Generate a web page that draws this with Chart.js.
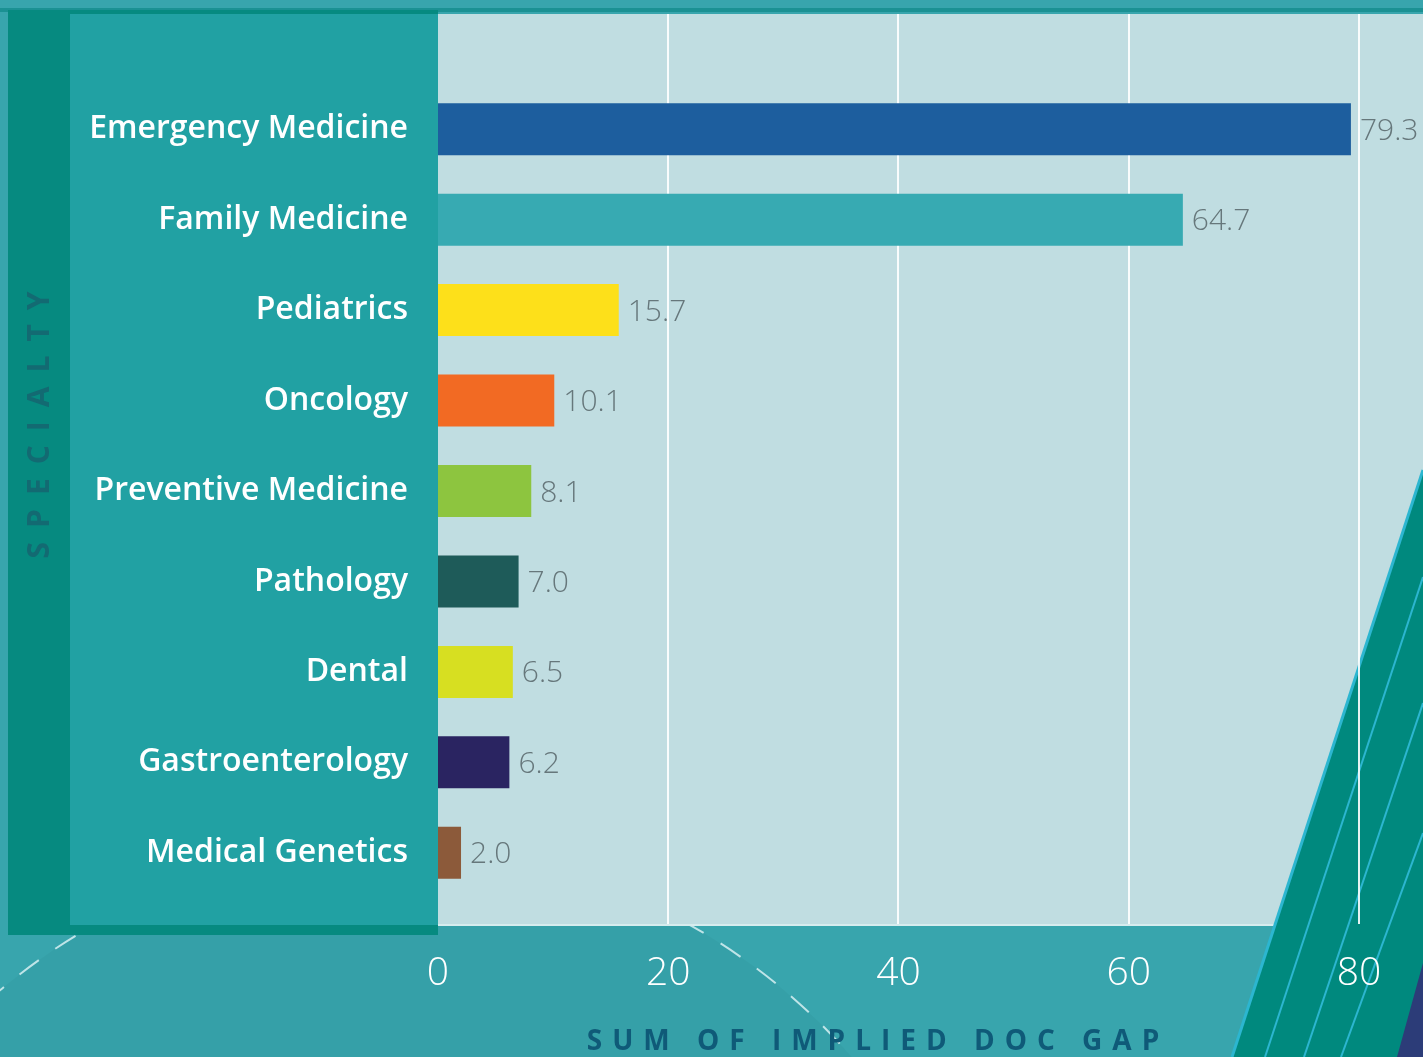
<!DOCTYPE html>
<html>
<head>
<meta charset="utf-8">
<script src="https://cdn.jsdelivr.net/npm/chart.js@4.4.1/dist/chart.umd.min.js"></script>
<style>
  html, body { margin: 0; padding: 0; background: #38a5ad; overflow: hidden; }
  canvas { display: block; }
</style>
</head>
<body>
<canvas id="gapChart" width="1423" height="1057"></canvas>
<script>
// Implied doctor gap by specialty
const specialties = ["Emergency Medicine", "Family Medicine", "Pediatrics", "Oncology",
    "Preventive Medicine", "Pathology", "Dental", "Gastroenterology", "Medical Genetics"];
const docGap = [79.3, 64.7, 15.7, 10.1, 8.1, 7.0, 6.5, 6.2, 2.0];
const barColors = ["#1d5e9e", "#37aab2", "#fde01a", "#f26a23", "#8dc53f",
    "#1e5b59", "#d7df21", "#2a2461", "#8c5a3a"];
const xTicks = [0, 20, 40, 60, 80];
const xTitle = "SUM OF IMPLIED DOC GAP";
const yTitle = "SPECIALTY";

// page decoration: panels, plot backdrop, stripes, grid lines
const backdrop = {
    id: "backdrop",
    beforeDraw(chart) {
        const ctx = chart.ctx;
        const W = chart.width, H = chart.height;
        const area = chart.chartArea;
        const xs = chart.scales.x;
        ctx.save();

        ctx.fillStyle = "#38a5ad";
        ctx.fillRect(0, 0, W, H);

        // big faint circle with dashed rim
        ctx.beginPath();
        ctx.arc(392, 1455, 608, 0, Math.PI * 2);
        ctx.fillStyle = "rgba(0,40,60,0.04)";
        ctx.fill();
        ctx.setLineDash([24, 20]);
        ctx.strokeStyle = "rgba(215,240,242,0.85)";
        ctx.lineWidth = 2;
        ctx.stroke();
        ctx.setLineDash([]);

        // top stripe
        ctx.fillStyle = "#1b9193";
        ctx.fillRect(0, 8, W, 4);

        // left panels
        ctx.fillStyle = "#068a80";
        ctx.fillRect(8, 10, area.left - 8, 925);
        ctx.fillStyle = "#21a1a3";
        ctx.fillRect(70, 14, area.left - 70, 911);

        // plot backdrop
        ctx.fillStyle = "#c0dde1";
        ctx.fillRect(area.left, 14, W - area.left, 911);
        ctx.fillStyle = "#d6ecee";
        ctx.fillRect(area.left, 924, W - area.left, 2);

        // corner wedge
        ctx.beginPath();
        ctx.moveTo(W, 470);
        ctx.lineTo(1232, H);
        ctx.lineTo(W, H);
        ctx.closePath();
        ctx.fillStyle = "#00897e";
        ctx.fill();
        ctx.strokeStyle = "#2cb6d0";
        ctx.lineWidth = 3;
        ctx.beginPath();
        ctx.moveTo(W, 470);
        ctx.lineTo(1232, H);
        ctx.stroke();
        ctx.lineWidth = 2;
        [[577, 1265], [703, 1304], [833, 1341]].forEach(([y0, x1]) => {
            ctx.beginPath();
            ctx.moveTo(W, y0);
            ctx.lineTo(x1, H);
            ctx.stroke();
        });
        ctx.beginPath();
        ctx.moveTo(W, 963);
        ctx.lineTo(1397, H);
        ctx.lineTo(W, H);
        ctx.closePath();
        ctx.fillStyle = "#2c3c78";
        ctx.fill();

        // vertical grid lines from the x scale
        ctx.strokeStyle = "rgba(255,255,255,0.9)";
        ctx.lineWidth = 2;
        xTicks.slice(1).forEach(v => {
            const px = Math.round(xs.getPixelForValue(v));
            ctx.beginPath();
            ctx.moveTo(px, 14);
            ctx.lineTo(px, 924);
            ctx.stroke();
        });
        ctx.restore();
    }
};

// values after the bars, axis titles
const valueLabels = {
    id: "valueLabels",
    afterDraw(chart) {
        const ctx = chart.ctx;
        const meta = chart.getDatasetMeta(0);
        ctx.save();
        ctx.font = "300 30px 'Open Sans', sans-serif";
        ctx.fillStyle = "#66777b";
        ctx.textAlign = "left";
        ctx.textBaseline = "middle";
        meta.data.forEach((bar, i) => {
            ctx.fillText(docGap[i].toFixed(1), bar.x + 9, bar.y + 2);
        });

        ctx.letterSpacing = "10px";
        ctx.font = "bold 28px 'Open Sans', sans-serif";
        ctx.fillStyle = "#0f5a78";
        ctx.textAlign = "center";
        ctx.fillText(xTitle, 878, 1042);

        ctx.letterSpacing = "14px";
        ctx.font = "bold 30px 'Open Sans', sans-serif";
        ctx.fillStyle = "#136a72";
        ctx.translate(40, 425);
        ctx.rotate(-Math.PI / 2);
        ctx.fillText(yTitle, 7, 0);
        ctx.restore();
    }
};

const ctx = document.getElementById("gapChart").getContext("2d");
new Chart(ctx, {
    type: "bar",
    data: {
        labels: specialties,
        datasets: [{
            data: docGap,
            backgroundColor: barColors,
            borderWidth: 0,
            categoryPercentage: 1,
            barPercentage: 0.575
        }]
    },
    options: {
        indexAxis: "y",
        responsive: false,
        animation: false,
        devicePixelRatio: 1,
        layout: { padding: { top: 84, right: 0, bottom: 0, left: 0 } },
        plugins: { legend: { display: false }, tooltip: { enabled: false } },
        scales: {
            x: {
                min: 0,
                max: 85.56,
                grid: { display: false, drawTicks: false },
                border: { display: false },
                ticks: {
                    stepSize: 20,
                    includeBounds: false,
                    color: "#ffffff",
                    font: { family: "'Open Sans'", size: 39, weight: 300 },
                    padding: 52,
                    maxRotation: 0
                },
                afterFit: s => {
                    s.height = 159;
                    s.paddingLeft = 0;
                    s.paddingRight = 0;
                }
            },
            y: {
                grid: { display: false, drawTicks: false },
                border: { display: false },
                ticks: {
                    color: "#ffffff",
                    font: { family: "'Open Sans'", size: 32, weight: 600 },
                    padding: 30
                },
                afterFit: s => { s.width = 438; }
            }
        }
    },
    plugins: [backdrop, valueLabels]
});
</script>
</body>
</html>
